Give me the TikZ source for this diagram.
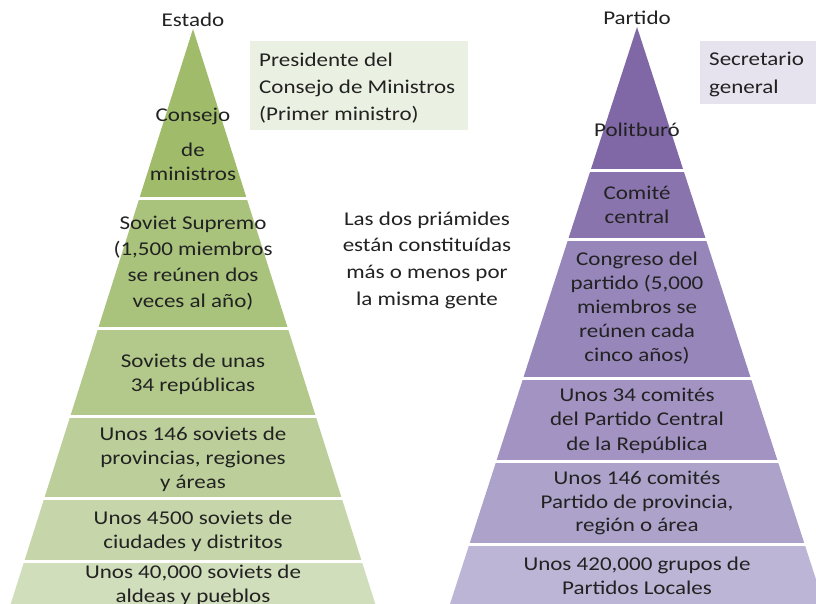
\documentclass[tikz,border=0pt]{standalone}
\usepackage{fontspec}
\setmainfont{Carlito}[FakeStretch=1.18]
\definecolor{gA}{HTML}{A0BC6A}
\definecolor{gB}{HTML}{A9C27C}
\definecolor{gC}{HTML}{B3C98B}
\definecolor{gD}{HTML}{BCCF9A}
\definecolor{gE}{HTML}{C6D6AA}
\definecolor{gF}{HTML}{D1DEBB}
\definecolor{pA}{HTML}{8068A6}
\definecolor{pB}{HTML}{8A74AD}
\definecolor{pC}{HTML}{9686BA}
\definecolor{pD}{HTML}{A293C2}
\definecolor{pE}{HTML}{ADA2C9}
\definecolor{pF}{HTML}{BCB5D6}
\definecolor{gbox}{HTML}{EBF1E2}
\definecolor{pbox}{HTML}{E6E2EE}
\definecolor{txt}{HTML}{222222}
\tikzset{
  lbl/.style={align=center, text=txt, inner sep=0pt,
    font=\fontsize{19.5}{23.8}\selectfont},
  sep/.style={white, line width=3pt}
}
\begin{document}
\begin{tikzpicture}[x=1pt,y=-1pt]
  \clip (0,0) rectangle (816,604);
  \fill[white] (0,0) rectangle (816,604);

  %% pyramid Estado
  \fill[gA] (193,29) -- (246.7,198.5) -- (139.3,198.5) -- cycle;
  \fill[gB] (139.3,198.5) -- (246.7,198.5) -- (287.9,328.5) -- (98.1,328.5) -- cycle;
  \fill[gC] (98.1,328.5) -- (287.9,328.5) -- (315.8,416.5) -- (70.2,416.5) -- cycle;
  \fill[gD] (70.2,416.5) -- (315.8,416.5) -- (341.8,498.5) -- (44.2,498.5) -- cycle;
  \fill[gE] (44.2,498.5) -- (341.8,498.5) -- (361.8,561.5) -- (24.2,561.5) -- cycle;
  \fill[gF] (24.2,561.5) -- (361.8,561.5) -- (375.3,604) -- (10.7,604) -- cycle;
  \draw[sep] (130,198.5) -- (256,198.5);
  \draw[sep] (90,328.5) -- (296,328.5);
  \draw[sep] (60,416.5) -- (326,416.5);
  \draw[sep] (35,498.5) -- (351,498.5);
  \draw[sep] (15,561.5) -- (371,561.5);

  %% pyramid Partido
  \fill[pA] (637,27) -- (683.5,170.5) -- (590.5,170.5) -- cycle;
  \fill[pB] (590.5,170.5) -- (683.5,170.5) -- (705.9,239.5) -- (568.1,239.5) -- cycle;
  \fill[pC] (568.1,239.5) -- (705.9,239.5) -- (750.9,378.5) -- (523.1,378.5) -- cycle;
  \fill[pD] (523.1,378.5) -- (750.9,378.5) -- (777.8,461.5) -- (496.2,461.5) -- cycle;
  \fill[pE] (496.2,461.5) -- (777.8,461.5) -- (804.7,544.5) -- (469.3,544.5) -- cycle;
  \fill[pF] (469.3,544.5) -- (804.7,544.5) -- (824,604) -- (450,604) -- cycle;
  \draw[sep] (580,170.5) -- (694,170.5);
  \draw[sep] (560,239.5) -- (714,239.5);
  \draw[sep] (514,378.5) -- (760,378.5);
  \draw[sep] (487,461.5) -- (787,461.5);
  \draw[sep] (460,544.5) -- (814,544.5);

  %% side boxes
  \fill[gbox] (250,41) rectangle (468,130);
  \fill[pbox] (700,41) rectangle (816,104);

  %% labels
  \node[lbl] (estado) at (193,20) {Estado};
  \node[lbl] (partido) at (637,18) {Partido};
  \node[lbl, align=left, anchor=west, font=\fontsize{19.5}{27}\selectfont]
    (presidente) at (259,88) {Presidente del\\Consejo de Ministros\\(Primer ministro)};
  \node[lbl, align=left, anchor=west, font=\fontsize{19.5}{28}\selectfont]
    (secretario) at (709,74) {Secretario\\general};
  \node[lbl, font=\fontsize{19.5}{26.7}\selectfont]
    (nota) at (427,260) {Las dos priámides\\están constituídas\\más o menos por\\la misma gente};

  \node[lbl] (consejo) at (193,116) {Consejo};
  \node[lbl] (ministros) at (193,161.5) {de\\ministros};
  \node[lbl, font=\fontsize{19.5}{26}\selectfont]
    (supremo) at (193,263.5) {Soviet Supremo\\(1,500 miembros\\se reúnen dos\\veces al año)};
  \node[lbl] (republicas) at (193,374) {Soviets de unas\\34 repúblicas};
  \node[lbl] (provincias) at (193,459.5) {Unos 146 soviets de\\provincias, regiones\\y áreas};
  \node[lbl] (ciudades) at (193,531.5) {Unos 4500 soviets de\\ciudades y distritos};
  \node[lbl] (aldeas) at (193,585) {Unos 40,000 soviets de\\aldeas y pueblos};

  \node[lbl] (politburo) at (637,130) {Politburó};
  \node[lbl] (comite) at (637,204.5) {Comité\\central};
  \node[lbl] (congreso) at (637,308) {Congreso del\\partido (5,000\\miembros se\\reúnen cada\\cinco años)};
  \node[lbl, font=\fontsize{19.5}{24.5}\selectfont]
    (centrales) at (637,420.5) {Unos 34 comités\\del Partido Central\\de la República};
  \node[lbl] (regionales) at (637,503) {Unos 146 comités\\Partido de provincia,\\región o área};
  \node[lbl] (locales) at (637,576) {Unos 420,000 grupos de\\Partidos Locales};
\end{tikzpicture}
\end{document}
